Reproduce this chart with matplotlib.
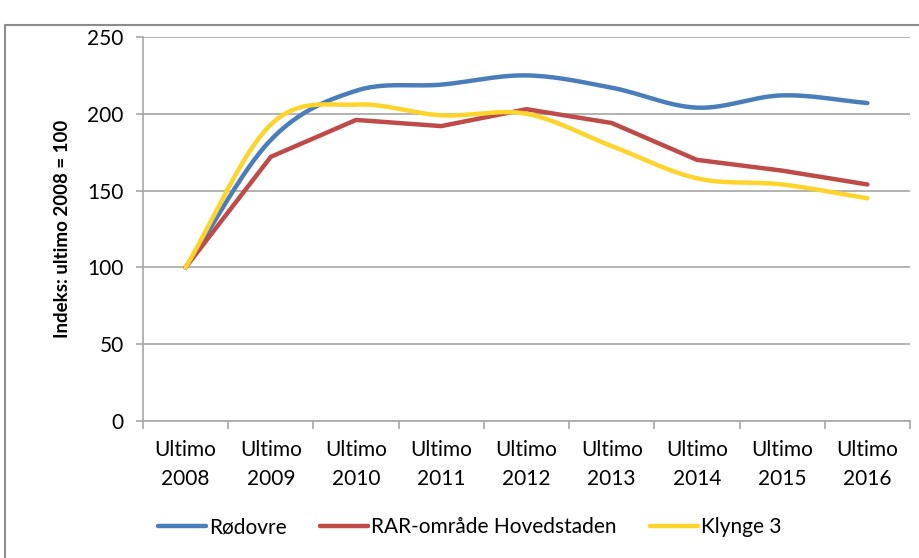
import matplotlib
matplotlib.use("Agg")
import matplotlib.pyplot as plt
import matplotlib.patches as mpatches
import numpy as np

years = ["2008", "2009", "2010", "2011", "2012", "2013", "2014", "2015", "2016"]
rodovre = [100, 183, 215, 219, 225, 217, 204, 212, 207]
rar = [100, 172, 196, 192, 203, 194, 170, 163, 154]
klynge3 = [100, 193, 206, 199, 200, 179, 158, 154, 145]

BLUE = "#4A7EBB"
RED = "#BE4B48"
YELLOW = "#FFD42A"
GRID = "#A6A6A6"

plt.rcParams["font.family"] = ["Lato", "DejaVu Sans"]


def smooth(xs, ys, n=30):
    # Excel-style smoothed line: Catmull-Rom through the points
    xs = np.asarray(xs, float)
    ys = np.asarray(ys, float)
    px = np.concatenate([[2 * xs[0] - xs[1]], xs, [2 * xs[-1] - xs[-2]]])
    py = np.concatenate([[2 * ys[0] - ys[1]], ys, [2 * ys[-1] - ys[-2]]])
    ox, oy = [], []
    t = np.linspace(0, 1, n)
    for i in range(1, len(px) - 2):
        for p, out in ((px, ox), (py, oy)):
            p0, p1, p2, p3 = p[i - 1], p[i], p[i + 1], p[i + 2]
            out.extend(0.5 * ((2 * p1) + (-p0 + p2) * t
                              + (2 * p0 - 5 * p1 + 4 * p2 - p3) * t ** 2
                              + (-p0 + 3 * p1 - 3 * p2 + p3) * t ** 3))
    return ox, oy


fig = plt.figure(figsize=(9.19, 5.58), dpi=100)
fig.patch.set_facecolor("white")
fig.patches.append(mpatches.Rectangle((5 / 919, -0.01), 1.0, 1 - 25 / 558 + 0.01,
                                      transform=fig.transFigure, fill=False,
                                      edgecolor="#8C8C8C", linewidth=1.5))

ax = fig.add_axes([143 / 919, 1 - 421 / 558, (910 - 143) / 919, (421 - 37) / 558])
x = np.arange(len(years))

bx, by = smooth(x, rodovre)
ax.plot(bx, by, color=BLUE, lw=3.2, solid_capstyle="round", label="Rødovre")
ax.plot(x, rar, color=RED, lw=3.2, solid_capstyle="round", solid_joinstyle="round",
        label="RAR-område Hovedstaden")
yx, yy = smooth(x, klynge3)
ax.plot(yx, yy, color=YELLOW, lw=3.2, solid_capstyle="round", label="Klynge 3")

ax.set_xlim(-0.5, len(years) - 0.5)
ax.set_ylim(0, 250)
ax.set_yticks(range(0, 251, 50))
ax.yaxis.grid(True, color=GRID, lw=1.2)
ax.set_axisbelow(True)

ax.set_xticks(x)
ax.set_xticklabels([f"Ultimo\n{y}" for y in years], fontsize=15, linespacing=1.55)
ax.tick_params(axis="x", length=0, pad=14)
ax.set_xticks(np.arange(-0.5, len(years)), minor=True)
ax.tick_params(axis="x", which="minor", length=6, color=GRID, width=1.2)
ax.tick_params(axis="y", labelsize=15, length=5, color=GRID, width=1.2, pad=9)

for s in ("top", "right"):
    ax.spines[s].set_visible(False)
for s in ("left", "bottom"):
    ax.spines[s].set_color(GRID)
    ax.spines[s].set_linewidth(1.2)

ax.set_ylabel("Indeks: ultimo 2008 = 100", fontsize=13.5, fontweight="bold", labelpad=12)

fig.legend(loc="center", bbox_to_anchor=(470 / 919, 1 - 527 / 558), ncol=3, frameon=False,
           fontsize=15, handlelength=2.3, handletextpad=0.15, columnspacing=1.6)

fig.savefig("out.png", dpi=100)
